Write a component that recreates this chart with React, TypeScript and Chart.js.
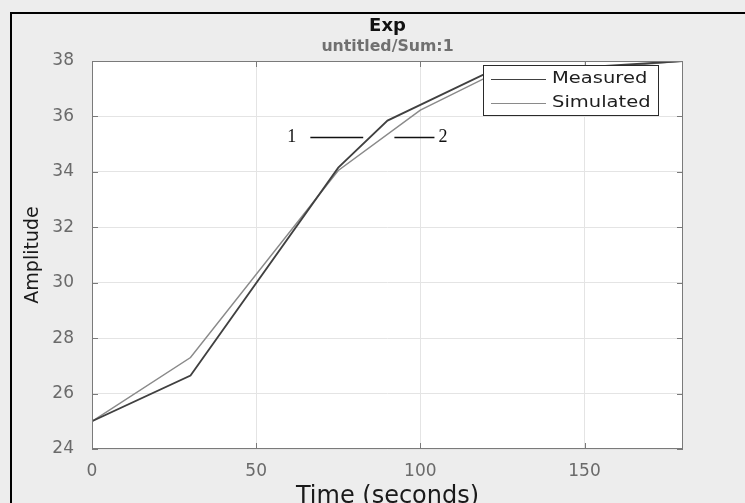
import React, { useEffect, useRef } from "react";
import { Chart, registerables } from "chart.js";

Chart.register(...registerables);

// ---- data ----
const measuredTime = [0, 30, 75, 90, 120, 180];
const measuredValue = [25, 26.65, 34.15, 35.85, 37.55, 38];
const simulatedTime = [0, 30, 75, 100, 120, 180];
const simulatedValue = [25, 27.3, 34.05, 36.23, 37.4, 38];
const seriesNames = ["Measured", "Simulated"];
const xTickValues = [0, 50, 100, 150];
const yTickValues = [24, 26, 28, 30, 32, 34, 36, 38];
const titleText = "Exp";
const subtitleText = "untitled/Sum:1";
const xTitleText = "Time (seconds)";
const yTitleText = "Amplitude";
const annotationLabels = ["1", "2"];

const measuredColor = "#404040";
const simulatedColor = "#8a8a8a";
const FONT = "'DejaVu Sans', 'Liberation Sans', Arial, sans-serif";

function stretchedText(ctx: CanvasRenderingContext2D, text: string, x: number, y: number, font: string, sx: number, align: CanvasTextAlign, color: string) {
  ctx.save();
  ctx.font = font;
  ctx.fillStyle = color;
  ctx.textBaseline = "middle";
  ctx.textAlign = align;
  ctx.translate(x, y);
  ctx.scale(sx, 1);
  ctx.fillText(text, 0, 0);
  ctx.restore();
}

const decorPlugin = {
  id: "decor",
  beforeDraw(chart: any) {
    const { ctx, chartArea: a } = chart;
    ctx.save();
    ctx.fillStyle = "#ffffff";
    ctx.fillRect(a.left, a.top, a.right - a.left, a.bottom - a.top);
    ctx.restore();
  },
  afterDraw(chart: any) {
    const { ctx, chartArea: a, scales } = chart;
    const xs = scales.x;
    const ys = scales.y;
    ctx.save();
    // box
    ctx.strokeStyle = "#7a7a7a";
    ctx.lineWidth = 1;
    ctx.strokeRect(a.left + 0.5, a.top + 0.5, a.right - a.left - 1, a.bottom - a.top - 1);
    // inner ticks
    const tl = 6;
    ctx.beginPath();
    xTickValues.forEach((v) => {
      const px = Math.round(xs.getPixelForValue(v)) + 0.5;
      ctx.moveTo(px, a.bottom);
      ctx.lineTo(px, a.bottom - tl);
      ctx.moveTo(px, a.top);
      ctx.lineTo(px, a.top + tl);
    });
    yTickValues.forEach((v) => {
      const py = Math.round(ys.getPixelForValue(v)) + 0.5;
      ctx.moveTo(a.left, py);
      ctx.lineTo(a.left + tl, py);
      ctx.moveTo(a.right, py);
      ctx.lineTo(a.right - tl, py);
    });
    ctx.stroke();

    // titles
    const cx = (a.left + a.right) / 2;
    stretchedText(ctx, titleText, cx, 26, `bold 18px ${FONT}`, 1.0, "center", "#111111");
    stretchedText(ctx, subtitleText, cx, 47, `bold 15px ${FONT}`, 1.05, "center", "#707070");

    // legend
    const lw = 175;
    const lh = 50;
    const lx = a.right - 25 - lw;
    const ly = a.top + 4;
    ctx.fillStyle = "#ffffff";
    ctx.fillRect(lx, ly, lw, lh);
    ctx.strokeStyle = "#2a2a2a";
    ctx.lineWidth = 1;
    ctx.strokeRect(lx + 0.5, ly + 0.5, lw, lh);
    const colors = [measuredColor, simulatedColor];
    seriesNames.forEach((name, i) => {
      const yy = ly + 14 + i * 24;
      ctx.strokeStyle = colors[i];
      ctx.lineWidth = 1.2;
      ctx.beginPath();
      ctx.moveTo(lx + 8, yy + 0.5);
      ctx.lineTo(lx + 63, yy + 0.5);
      ctx.stroke();
      stretchedText(ctx, name, lx + 69, yy, `15px ${FONT}`, 1.3, "left", "#1e1e1e");
    });

    // annotations
    const serif = "18px 'Liberation Serif', 'DejaVu Serif', serif";
    const ay = ys.getPixelForValue(35.26);
    stretchedText(ctx, annotationLabels[0], xs.getPixelForValue(60.8), ay, serif, 1, "center", "#111111");
    stretchedText(ctx, annotationLabels[1], xs.getPixelForValue(105.5), ay, serif, 1, "left", "#111111");
    ctx.strokeStyle = "#111111";
    ctx.lineWidth = 1.4;
    ctx.beginPath();
    const yl = Math.round(ay) + 0.5;
    ctx.moveTo(xs.getPixelForValue(66.5), yl);
    ctx.lineTo(xs.getPixelForValue(82.6), yl);
    ctx.moveTo(xs.getPixelForValue(92.1), yl);
    ctx.lineTo(xs.getPixelForValue(104.3), yl);
    ctx.stroke();
    ctx.restore();
  },
};

export default function App() {
  const ref = useRef<HTMLCanvasElement | null>(null);
  useEffect(() => {
    if (!ref.current) return;
    const chart = new Chart(ref.current, {
      type: "line",
      data: {
        datasets: [
          {
            label: seriesNames[0],
            data: measuredTime.map((t, i) => ({ x: t, y: measuredValue[i] })),
            borderColor: measuredColor,
            borderWidth: 1.8,
            pointRadius: 0,
            fill: false,
            tension: 0,
          },
          {
            label: seriesNames[1],
            data: simulatedTime.map((t, i) => ({ x: t, y: simulatedValue[i] })),
            borderColor: simulatedColor,
            borderWidth: 1.5,
            pointRadius: 0,
            fill: false,
            tension: 0,
          },
        ],
      },
      options: {
        animation: false,
        responsive: false,
        devicePixelRatio: 1,
        layout: { padding: { left: 0, right: 62, top: 61, bottom: 0 } },
        plugins: {
          legend: { display: false },
          title: { display: false },
          tooltip: { enabled: false },
        },
        scales: {
          x: {
            type: "linear",
            min: 0,
            max: 180,
            afterBuildTicks: (s: any) => {
              s.ticks = xTickValues.map((v) => ({ value: v }));
            },
            afterFit: (s: any) => {
              s.height = 71;
            },
            grid: { color: "#e4e4e4", drawTicks: false },
            border: { display: false },
            ticks: { color: "#6a6a6a", font: { family: FONT, size: 17 }, padding: 12, maxRotation: 0 },
            title: {
              display: true,
              text: xTitleText,
              color: "#1a1a1a",
              font: { family: FONT, size: 24 },
              padding: { top: 0, bottom: 9 },
            },
          },
          y: {
            type: "linear",
            min: 24,
            max: 38,
            afterBuildTicks: (s: any) => {
              s.ticks = yTickValues.map((v) => ({ value: v }));
            },
            afterFit: (s: any) => {
              s.width = 92;
            },
            grid: { color: "#e4e4e4", drawTicks: false },
            border: { display: false },
            ticks: { color: "#6a6a6a", font: { family: FONT, size: 17 }, padding: 18 },
            title: {
              display: true,
              text: yTitleText,
              color: "#1a1a1a",
              font: { family: FONT, size: 19 },
              padding: { top: 22, bottom: 0 },
            },
          },
        },
      },
      plugins: [decorPlugin],
    } as any);
    return () => chart.destroy();
  }, []);

  return (
    <div
      style={{
        position: "absolute",
        left: 0,
        top: 0,
        width: 745,
        height: 503,
        overflow: "hidden",
        background: "#ededed",
      }}
    >
      <div
        style={{
          position: "absolute",
          left: 10,
          top: 12,
          width: 900,
          height: 700,
          borderLeft: "2px solid #000",
          borderTop: "2px solid #000",
        }}
      />
      <canvas
        ref={ref}
        width={745}
        height={520}
        style={{ position: "absolute", left: 0, top: 0, width: 745, height: 520 }}
      />
    </div>
  );
}
